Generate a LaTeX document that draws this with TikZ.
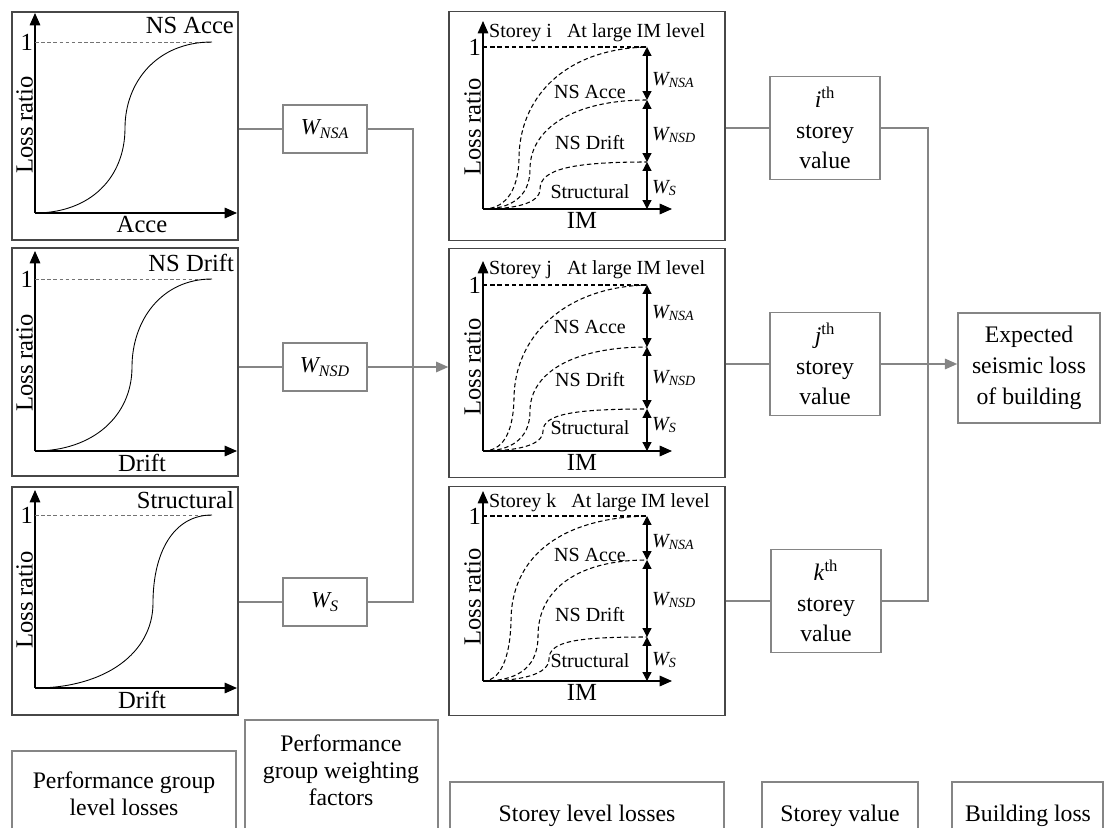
\documentclass[tikz,border=0pt]{standalone}
\usepackage{fontspec}
\setmainfont{Liberation Serif}
\usetikzlibrary{arrows.meta,positioning,calc}
\colorlet{linkgray}{black!48}
\colorlet{framegray}{black!72}
\tikzset{
  panel/.style={draw=framegray, line width=0.7pt, minimum width=4.52cm, minimum height=4.56cm, inner sep=0pt},
  bigpanel/.style={draw=framegray, line width=0.8pt, minimum width=5.52cm, minimum height=4.58cm, inner sep=0pt},
  wbox/.style={draw=linkgray, line width=0.9pt, minimum width=1.68cm, minimum height=0.96cm, inner sep=0pt, font=\fontsize{13}{15}\selectfont},
  valbox/.style={draw=linkgray, line width=0.9pt, minimum width=2.2cm, minimum height=2.06cm, inner sep=0pt, align=center, font=\fontsize{13.5}{17.5}\selectfont},
  tagtext/.style={inner sep=0pt, align=center, font=\fontsize{13.5}{15.5}\selectfont},
  link/.style={draw=linkgray, line width=0.9pt},
  flow/.style={link, -{Triangle[length=7pt,width=6pt]}},
  axis/.style={line width=0.7pt, -{Triangle[length=7pt,width=6pt]}},
  guide/.style={draw=black!55, line width=0.5pt, dash pattern=on 2pt off 1.5pt},
  curve/.style={line width=0.5pt},
  dcurve/.style={line width=0.6pt, dash pattern=on 2.5pt off 1.6pt},
  wdim/.style={line width=0.7pt, {Triangle[length=5pt,width=5pt]}-{Triangle[length=5pt,width=5pt]}},
  small/.style={inner sep=1pt, font=\fontsize{14}{16}\selectfont},
  tiny/.style={inner sep=1pt, font=\fontsize{11.4}{13}\selectfont},
  mid/.style={inner sep=1pt, font=\fontsize{14}{16}\selectfont}
}

\begin{document}
\begin{tikzpicture}[x=0.02cm,y=-0.02cm]
  \useasboundingbox (0,0) rectangle (1105,828);

  % performance group panels
  \node[panel] (accep) at (125,126) {};
  \node[panel] (driftp) at (125,362) {};
  \node[panel] (strucp) at (125,601) {};

  % NS Acce curve
  \begin{scope}[shift={(35,213)}]
    \draw[axis] (0,0) -- (0,-200);
    \draw[axis] (0,0) -- (202,0);
    \draw[guide] (0,-171) -- (177,-171);
    \draw[curve] (0,0) .. controls (55,0) and (90,-35) .. (90,-85)
      .. controls (90,-130) and (121,-171) .. (177,-171);
    \node[small, anchor=east] (accone) at (0,-171) {1};
    \node[small, anchor=south, rotate=90] (accely) at (0,-88) {Loss ratio};
    \node[small, anchor=north, inner sep=0pt] (accelx) at (107,3) {Acce};
    \node[small, anchor=east] (accetag) at (201,-188) {NS Acce};
  \end{scope}

  % NS Drift curve
  \begin{scope}[shift={(35,451)}]
    \draw[axis] (0,0) -- (0,-200);
    \draw[axis] (0,0) -- (202,0);
    \draw[guide] (0,-172) -- (177,-172);
    \draw[curve] (0,0) .. controls (58,0) and (97,-35) .. (97,-84)
      .. controls (97,-130) and (126,-172) .. (177,-172);
    \node[small, anchor=east] (driftone) at (0,-172) {1};
    \node[small, anchor=south, rotate=90] (driftly) at (0,-88) {Loss ratio};
    \node[small, anchor=north, inner sep=0pt] (driftlx) at (107,3) {Drift};
    \node[small, anchor=east] (drifttag) at (201,-188) {NS Drift};
  \end{scope}

  % Structural curve
  \begin{scope}[shift={(35,688)}]
    \draw[axis] (0,0) -- (0,-198);
    \draw[axis] (0,0) -- (202,0);
    \draw[guide] (0,-173) -- (177,-173);
    \draw[curve] (0,0) .. controls (70,0) and (118,-35) .. (118,-85)
      .. controls (118,-135) and (138,-173) .. (177,-173);
    \node[small, anchor=east] (strucone) at (0,-173) {1};
    \node[small, anchor=south, rotate=90] (strucly) at (0,-88) {Loss ratio};
    \node[small, anchor=north, inner sep=0pt] (struclx) at (107,3) {Drift};
    \node[small, anchor=east] (structag) at (201,-188) {Structural};
  \end{scope}

  % weighting factors
  \node[wbox] (wnsa) at (325,129) {\textit{W\textsubscript{NSA}}};
  \node[wbox] (wnsd) at (325,367) {\textit{W\textsubscript{NSD}}};
  \node[wbox] (ws) at (325,602) {\textit{W\textsubscript{S}}};
  \coordinate (wjoin) at (413,365);

  % storey panels
  \node[bigpanel] (storeyi) at (587,126) {};
  \node[bigpanel] (storeyj) at (587,363) {};
  \node[bigpanel] (storeyk) at (587,601) {};

  % storey i
  \begin{scope}[shift={(483,209)}]
    \draw[axis] (0,0) -- (0,-188);
    \draw[axis] (0,0) -- (189,0);
    \draw[dcurve] (0,-162) -- (164,-162);
    \draw[dcurve] (0,0) .. controls (20,0) and (35,-15) .. (36,-50)
      .. controls (36,-110) and (80,-160) .. (164,-162);
    \draw[dcurve] (0,0) .. controls (25,0) and (47,-10) .. (47,-40)
      .. controls (47,-80) and (90,-109) .. (164,-109);
    \draw[dcurve] (0,0) .. controls (30,0) and (57,-5) .. (57,-20)
      .. controls (57,-40) and (90,-47) .. (164,-47);
    \draw[wdim] (164,-162) -- (164,-109);
    \draw[wdim] (164,-109) -- (164,-47);
    \draw[wdim] (164,-47) -- (164,0);
    \node[mid, anchor=east] (ione) at (0,-162) {1};
    \node[small, anchor=south, rotate=90] (ily) at (0,-82) {Loss ratio};
    \node[mid, anchor=north, inner sep=0pt] (ilx) at (99,3) {IM};
    \node[tiny, anchor=west] (ititle) at (4,-176) {Storey i\hspace{0.75em}At large IM level};
    \node[tiny] (iacce) at (107,-117) {NS Acce};
    \node[tiny] (idrift) at (107,-66) {NS Drift};
    \node[tiny] (istruc) at (107,-17) {Structural};
    \node[tiny, anchor=west] (iwnsa) at (167,-129) {\textit{W\textsubscript{NSA}}};
    \node[tiny, anchor=west] (iwnsd) at (167,-74) {\textit{W\textsubscript{NSD}}};
    \node[tiny, anchor=west] (iws) at (167,-21) {\textit{W\textsubscript{S}}};
  \end{scope}

  % storey j
  \begin{scope}[shift={(483,451)}]
    \draw[axis] (0,0) -- (0,-190);
    \draw[axis] (0,0) -- (189,0);
    \draw[dcurve] (0,-166) -- (164,-166);
    \draw[dcurve] (0,0) .. controls (18,0) and (30,-15) .. (31,-52)
      .. controls (31,-113) and (80,-164) .. (164,-166);
    \draw[dcurve] (0,0) .. controls (25,0) and (47,-10) .. (47,-40)
      .. controls (47,-78) and (90,-104) .. (164,-104);
    \draw[dcurve] (0,0) .. controls (32,0) and (60,-5) .. (60,-20)
      .. controls (60,-37) and (92,-42) .. (164,-42);
    \draw[wdim] (164,-166) -- (164,-104);
    \draw[wdim] (164,-104) -- (164,-42);
    \draw[wdim] (164,-42) -- (164,0);
    \node[mid, anchor=east] (jone) at (0,-166) {1};
    \node[small, anchor=south, rotate=90] (jly) at (0,-84) {Loss ratio};
    \node[mid, anchor=north, inner sep=0pt] (jlx) at (99,3) {IM};
    \node[tiny, anchor=west] (jtitle) at (4,-181) {Storey j\hspace{0.75em}At large IM level};
    \node[tiny] (jacce) at (107,-124) {NS Acce};
    \node[tiny] (jdrift) at (107,-71) {NS Drift};
    \node[tiny] (jstruc) at (107,-23) {Structural};
    \node[tiny, anchor=west] (jwnsa) at (167,-138) {\textit{W\textsubscript{NSA}}};
    \node[tiny, anchor=west] (jwnsd) at (167,-73) {\textit{W\textsubscript{NSD}}};
    \node[tiny, anchor=west] (jws) at (167,-26) {\textit{W\textsubscript{S}}};
  \end{scope}

  % storey k
  \begin{scope}[shift={(483,681)}]
    \draw[axis] (0,0) -- (0,-190);
    \draw[axis] (0,0) -- (189,0);
    \draw[dcurve] (0,-165) -- (164,-165);
    \draw[dcurve] (0,0) .. controls (16,0) and (27,-20) .. (28,-60)
      .. controls (28,-122) and (75,-163) .. (164,-165);
    \draw[dcurve] (0,0) .. controls (30,0) and (55,-10) .. (55,-45)
      .. controls (55,-92) and (95,-121) .. (164,-121);
    \draw[dcurve] (0,0) .. controls (36,0) and (66,-6) .. (66,-22)
      .. controls (66,-40) and (95,-44) .. (164,-44);
    \draw[wdim] (164,-165) -- (164,-121);
    \draw[wdim] (164,-121) -- (164,-44);
    \draw[wdim] (164,-44) -- (164,0);
    \node[mid, anchor=east] (kone) at (0,-165) {1};
    \node[small, anchor=south, rotate=90] (kly) at (0,-84) {Loss ratio};
    \node[mid, anchor=north, inner sep=0pt] (klx) at (99,3) {IM};
    \node[tiny, anchor=west] (ktitle) at (4,-178) {Storey k\hspace{0.75em}At large IM level};
    \node[tiny] (kacce) at (107,-126) {NS Acce};
    \node[tiny] (kdrift) at (107,-66) {NS Drift};
    \node[tiny] (kstruc) at (107,-20) {Structural};
    \node[tiny, anchor=west] (kwnsa) at (167,-139) {\textit{W\textsubscript{NSA}}};
    \node[tiny, anchor=west] (kwnsd) at (167,-81) {\textit{W\textsubscript{NSD}}};
    \node[tiny, anchor=west] (kws) at (167,-21) {\textit{W\textsubscript{S}}};
  \end{scope}

  % storey values and building loss
  \node[valbox] (ival) at (825,128) {\textit{i}\textsuperscript{th}\\storey\\value};
  \node[valbox] (jval) at (825,364) {\textit{j}\textsuperscript{th}\\storey\\value};
  \node[valbox] (kval) at (826,601) {\textit{k}\textsuperscript{th}\\storey\\value};
  \node[valbox, minimum width=2.84cm, minimum height=2.2cm] (loss) at (1029,368) {Expected\\seismic loss\\of building};
  \coordinate (vjoin) at (928,365);

  % connectors
  \draw[link] (wnsa.west -| accep.east) -- (wnsa.west);
  \draw[link] (wnsd.west -| driftp.east) -- (wnsd.west);
  \draw[link] (ws.west -| strucp.east) -- (ws.west);
  \draw[link] (wnsa.east) -| (wjoin);
  \draw[link] (ws.east) -| (wjoin);
  \draw[flow] (wnsd.east) -- (wnsd.east -| storeyj.west);
  \draw[link] (ival.west -| storeyi.east) -- (ival.west);
  \draw[link] (jval.west -| storeyj.east) -- (jval.west);
  \draw[link] (kval.west -| storeyk.east) -- (kval.west);
  \draw[link] (ival.east) -| (vjoin);
  \draw[link] (kval.east) -| (vjoin);
  \draw[flow] (jval.east) -- (jval.east -| loss.west);

  % column headings
  \draw[link] (12,828) |- (236,751) -- (236,828);
  \node[tagtext] (pglevel) at (124,794) {Performance group\\level losses};
  \draw[link] (245,828) |- (438,720) -- (438,828);
  \node[tagtext] (pgweight) at (341,770) {Performance\\group weighting\\factors};
  \draw[link] (450,828) |- (724,782) -- (724,828);
  \node[tagtext] (stlevel) at (587,816) {Storey level losses};
  \draw[link] (762,828) |- (918,782) -- (918,828);
  \node[tagtext] (stvalue) at (840,816) {Storey value};
  \draw[link] (952,828) |- (1103,782) -- (1103,828);
  \node[tagtext] (bdloss) at (1028,816) {Building loss};
\end{tikzpicture}
\end{document}
